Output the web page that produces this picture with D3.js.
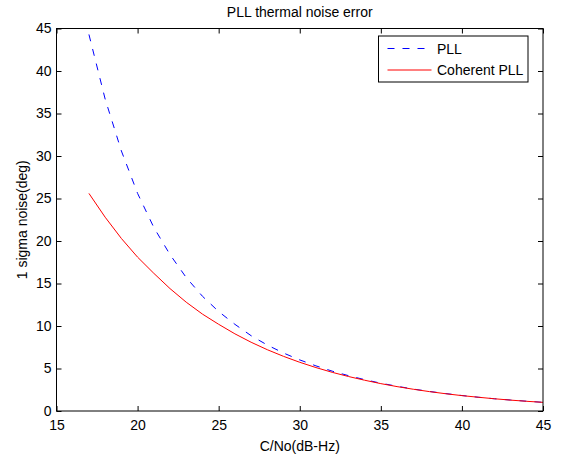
<!DOCTYPE html>
<html>
<head>
<meta charset="utf-8">
<script src="https://cdn.jsdelivr.net/npm/d3@7"></script>
<style>
  body { margin: 0; background: #fff; }
  svg { display: block; font-family: "Liberation Sans", Arial, sans-serif; }
  .tick text { font-size: 14px; fill: #000; }
  .tick line { stroke: #000; }
</style>
</head>
<body>
<svg id="chart" width="562" height="454"></svg>
<script>
// C/No in dB-Hz
const cn0 = [17, 18, 19, 20, 21, 22, 23, 24, 25, 26, 27, 28, 29, 30, 31,
             32, 33, 34, 35, 36, 37, 38, 39, 40, 41, 42, 43, 44, 45];

// 1 sigma noise (deg)
const pll = [44.3, 36.7, 30.6, 25.6, 21.6, 18.4, 15.7, 13.5, 11.7, 10.2,
             8.86, 7.76, 6.82, 6.01, 5.31, 4.69, 4.16, 3.69, 3.27, 2.91,
             2.58, 2.30, 2.05, 1.82, 1.62, 1.44, 1.29, 1.15, 1.02];
const coherent = [25.6, 22.8, 20.3, 18.1, 16.2, 14.4, 12.8, 11.4, 10.2, 9.08,
                  8.09, 7.21, 6.43, 5.73, 5.11, 4.55, 4.06, 3.62, 3.22, 2.87,
                  2.56, 2.28, 2.03, 1.81, 1.62, 1.44, 1.28, 1.14, 1.02];

const xTicks = [15, 20, 25, 30, 35, 40, 45];
const yTicks = [0, 5, 10, 15, 20, 25, 30, 35, 40, 45];

const series = [
    { name: "PLL", values: pll, color: "#0000ff", dash: "7,8" },
    { name: "Coherent PLL", values: coherent, color: "#ff0000", dash: null }
];

const svg = d3.select("#chart");
const margin = { left: 56.5, right: 543, top: 28.5, bottom: 411 };
const width = margin.right - margin.left, height = margin.bottom - margin.top;

const x = d3.scaleLinear().domain([15, 45]).range([0, width]);
const y = d3.scaleLinear().domain([0, 45]).range([height, 0]);

const g = svg.append("g")
    .attr("transform", `translate(${margin.left}, ${margin.top})`);

const line = d3.line()
    .x((d, i) => x(cn0[i]))
    .y(d => y(d));

g.selectAll("path.series")
    .data(series)
    .enter().append("path")
    .attr("class", "series")
    .attr("d", d => line(d.values))
    .attr("fill", "none")
    .attr("stroke", d => d.color)
    .attr("stroke-width", 1)
    .attr("stroke-dasharray", d => d.dash);

// axes, ticks pointing inward on all four sides
g.append("g")
    .attr("transform", `translate(0, ${height})`)
    .call(d3.axisBottom(x).tickValues(xTicks).tickSize(-5).tickSizeOuter(0).tickPadding(9))
    .call(a => a.select(".domain").remove());
g.append("g")
    .call(d3.axisTop(x).tickValues(xTicks).tickSize(-5).tickSizeOuter(0).tickFormat(""))
    .call(a => a.select(".domain").remove());
g.append("g")
    .call(d3.axisLeft(y).tickValues(yTicks).tickSize(-5).tickSizeOuter(0).tickPadding(5))
    .call(a => a.select(".domain").remove());
g.append("g")
    .attr("transform", `translate(${width}, 0)`)
    .call(d3.axisRight(y).tickValues(yTicks).tickSize(-5).tickSizeOuter(0).tickFormat(""))
    .call(a => a.select(".domain").remove());

g.selectAll(".tick line").attr("stroke", "#000");
g.selectAll(".tick text").attr("fill", "#000").attr("font-family", null);

g.append("rect")
    .attr("width", width)
    .attr("height", height)
    .attr("fill", "none")
    .attr("stroke", "#000")
    .attr("stroke-width", 1);

// labels
svg.append("text")
    .attr("x", margin.left + width / 2)
    .attr("y", 17)
    .attr("text-anchor", "middle")
    .attr("font-size", 14)
    .text("PLL thermal noise error");

svg.append("text")
    .attr("x", margin.left + width / 2)
    .attr("y", 451)
    .attr("text-anchor", "middle")
    .attr("font-size", 14)
    .text("C/No(dB-Hz)");

svg.append("text")
    .attr("transform", `translate(27, ${margin.top + height / 2}) rotate(-90)`)
    .attr("text-anchor", "middle")
    .attr("font-size", 14)
    .text("1 sigma noise(deg)");

// legend
const legend = svg.append("g")
    .attr("transform", "translate(378.5, 36)");

legend.append("rect")
    .attr("width", 149.5)
    .attr("height", 46)
    .attr("fill", "#fff")
    .attr("stroke", "#000")
    .attr("stroke-width", 1);

const item = legend.selectAll("g.item")
    .data(series)
    .enter().append("g")
    .attr("class", "item")
    .attr("transform", (d, i) => `translate(0, ${12.5 + i * 21.5})`);

item.append("line")
    .attr("x1", 9)
    .attr("x2", 53)
    .attr("stroke", d => d.color)
    .attr("stroke-width", 1)
    .attr("stroke-dasharray", d => d.dash);

item.append("text")
    .attr("x", 58.5)
    .attr("y", 5)
    .attr("font-size", 14)
    .text(d => d.name);
</script>
</body>
</html>
